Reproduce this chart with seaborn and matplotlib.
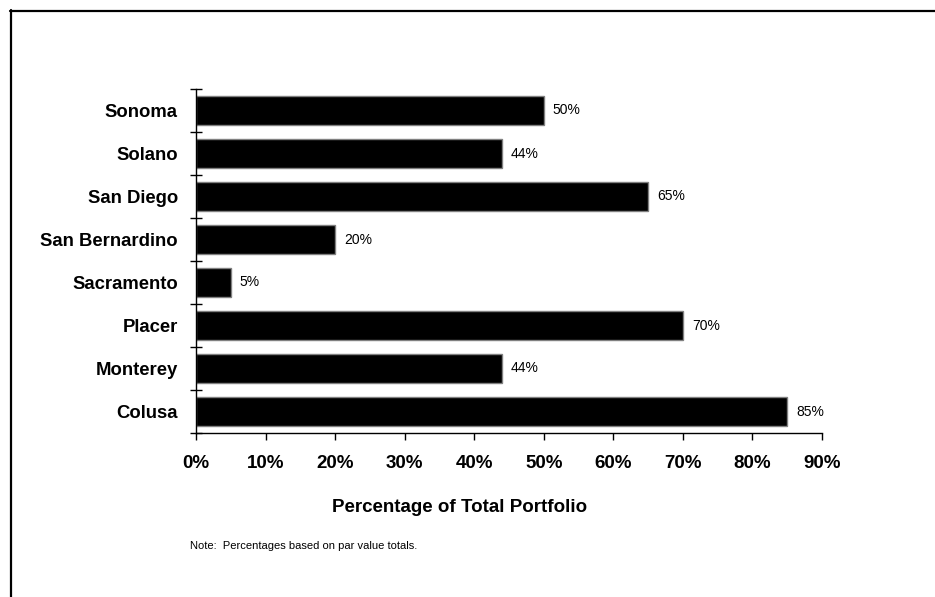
import matplotlib
matplotlib.use("Agg")
import matplotlib.pyplot as plt
import seaborn as sns
import pandas as pd
from matplotlib.lines import Line2D
from matplotlib.ticker import FuncFormatter, MultipleLocator

counties = ["Sonoma", "Solano", "San Diego", "San Bernardino",
            "Sacramento", "Placer", "Monterey", "Colusa"]
pct = [50, 44, 65, 20, 5, 70, 44, 85]
xticks = [0, 10, 20, 30, 40, 50, 60, 70, 80, 90]

sns.set_theme(style="white")
plt.rcParams["font.family"] = ["Liberation Sans", "DejaVu Sans"]
plt.rcParams.update({"text.color": "black", "axes.labelcolor": "black",
                     "xtick.color": "black", "ytick.color": "black"})

df = pd.DataFrame({"County": counties, "Pct": pct})

fig = plt.figure(figsize=(9.35, 5.97), dpi=100)
ax = fig.add_axes([196 / 935, 1 - 433 / 597, (822 - 196) / 935, (433 - 89) / 597])

sns.barplot(data=df, x="Pct", y="County", orient="h", color="black",
            width=0.67, edgecolor="#808080", linewidth=1, saturation=1, ax=ax)

ax.set_xlim(0, 90)
ax.set_xticks(xticks)
ax.xaxis.set_major_formatter(FuncFormatter(lambda v, p: f"{v:.0f}%"))
ax.tick_params(axis="x", direction="out", length=5, width=1, color="black",
               labelcolor="black", pad=11, labelsize=13.5, bottom=True)
for lab in ax.get_xticklabels():
    lab.set_fontweight("bold")

# category labels without marks, marks at band boundaries
ax.tick_params(axis="y", which="major", length=0, pad=13, labelsize=13.3,
               labelcolor="black")
for lab in ax.get_yticklabels():
    lab.set_fontweight("bold")
ax.yaxis.set_minor_locator(MultipleLocator(1, offset=0.5))
ax.tick_params(axis="y", which="minor", direction="inout", length=9, width=1,
               color="black", left=True)

ax.set_xlabel("")
ax.set_ylabel("")
for side in ["top", "right"]:
    ax.spines[side].set_visible(False)
for side in ["left", "bottom"]:
    ax.spines[side].set_color("black")
    ax.spines[side].set_linewidth(1)

for i, v in enumerate(pct):
    ax.annotate(f"{v}%", (v, i), xytext=(6.5, 0), textcoords="offset points",
                ha="left", va="center", fontsize=10, color="black")

fig.text(460 / 935, 1 - 507 / 597, "Percentage of Total Portfolio",
         ha="center", va="center", fontsize=13.5, fontweight="bold", color="black")
fig.text(190 / 935, 1 - 546 / 597, "Note:  Percentages based on par value totals.",
         ha="left", va="center", fontsize=8, color="black")

# frame lines (top and left) around the chart
fig.add_artist(Line2D([10 / 935, 1], [1 - 11 / 597, 1 - 11 / 597],
                      color="black", linewidth=1.6, transform=fig.transFigure))
fig.add_artist(Line2D([11 / 935, 11 / 935], [1 - 10 / 597, 0],
                      color="black", linewidth=1.6, transform=fig.transFigure))

fig.savefig("out.png", dpi=100)
